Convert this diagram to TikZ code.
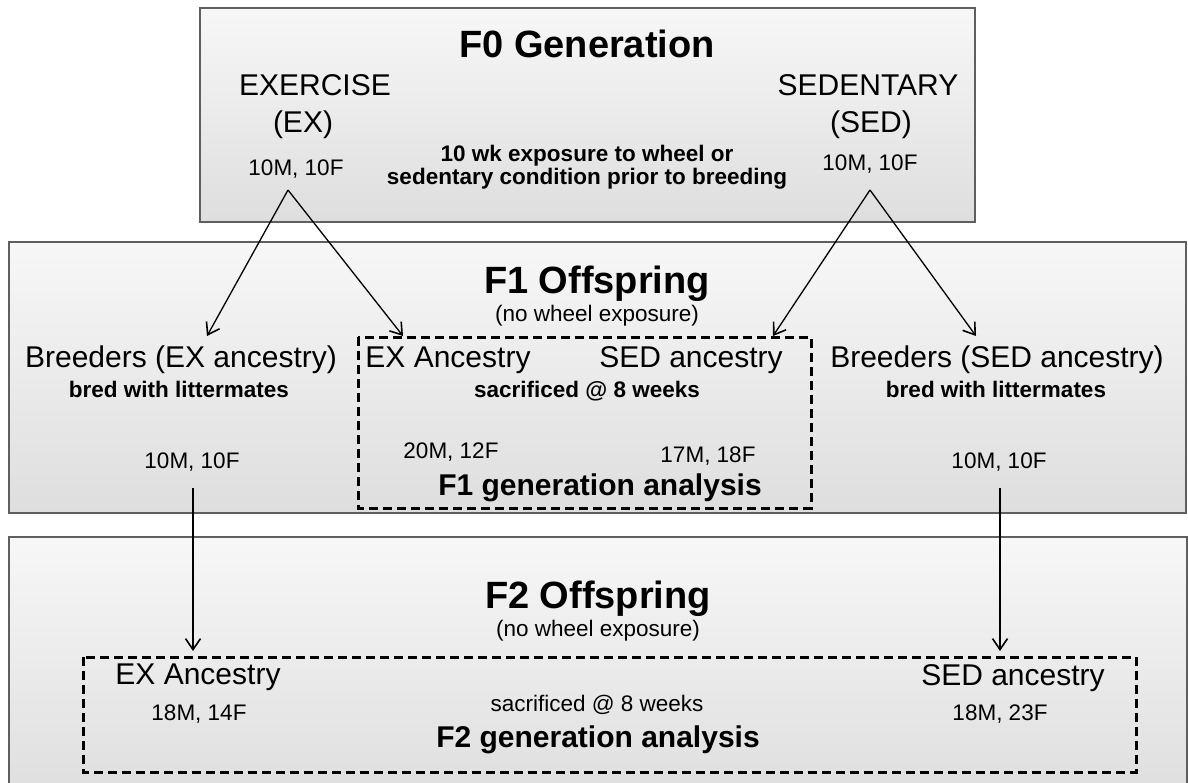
\documentclass[tikz,border=0pt]{standalone}
\usepackage{fontspec}
\setmainfont{Liberation Sans}
\usetikzlibrary{arrows.meta}
\definecolor{boxtop}{RGB}{247,247,247}
\definecolor{boxbot}{RGB}{222,222,222}
\definecolor{boxline}{RGB}{95,95,95}

\begin{document}
\begin{tikzpicture}[x=1pt,y=-1pt,
  panel/.style={draw=boxline,line width=1.6pt,top color=boxtop,bottom color=boxbot},
  group/.style={draw=black,line width=3pt,dash pattern=on 9pt off 5pt},
  arr/.style={-{Straight Barb[length=11pt,width=15pt,line width=1.6pt]},line width=1.3pt},
  big/.style={anchor=base,font=\fontsize{38}{40}\selectfont\bfseries},
  mid/.style={anchor=base,font=\fontsize{30}{32}\selectfont},
  midb/.style={mid,font=\fontsize{30}{32}\selectfont\bfseries},
  small/.style={anchor=base,font=\fontsize{22.5}{24}\selectfont},
  smallb/.style={small,font=\fontsize{22.5}{24}\selectfont\bfseries}]
\clip (0,0) rectangle (1188,782);
\fill[white] (0,0) rectangle (1188,782);

% the three panels
\draw[panel] (200,8) rectangle (975,222);
\draw[panel] (9,242) rectangle (1186,513);
\draw[panel] (9,537) rectangle (1187,800);
\draw[group] (358,337) rectangle (811,508);
\draw[group] (83,657) rectangle (1136,772);

% F0
\node[big] (f0) at (587,57) {F0 Generation};
\node[mid] (ex) at (315,95) {EXERCISE};
\node[mid] (exab) at (303,132) {(EX)};
\node[small] (exn) at (296,175) {10M, 10F};
\node[mid] (sed) at (868,95) {SEDENTARY};
\node[mid] (sedab) at (871,132) {(SED)};
\node[small] (sedn) at (870,170) {10M, 10F};
\node[smallb] (wk) at (587,161) {10 wk exposure to wheel or};
\node[smallb] (cond) at (587,184) {sedentary condition prior to breeding};

% F1
\node[big] (f1) at (597,293) {F1 Offspring};
\node[small] (f1no) at (597,321) {(no wheel exposure)};
\node[mid] (brex) at (181,367) {Breeders (EX ancestry)};
\node[smallb] (brexl) at (179,397) {bred with littermates};
\node[small] (brexn) at (192,468) {10M, 10F};
\node[mid] (f1ex) at (448,367) {EX Ancestry};
\node[mid] (f1sed) at (691,367) {SED ancestry};
\node[smallb] (f1sac) at (587,397) {sacrificed @ 8 weeks};
\node[small] (f1exn) at (451,458) {20M, 12F};
\node[small] (f1sedn) at (708,462) {17M, 18F};
\node[midb] (f1an) at (600,495) {F1 generation analysis};
\node[mid] (brsed) at (997,367) {Breeders (SED ancestry)};
\node[smallb] (brsedl) at (996,397) {bred with littermates};
\node[small] (brsedn) at (999,468) {10M, 10F};

% F2
\node[big] (f2) at (598,608) {F2 Offspring};
\node[small] (f2no) at (598,636) {(no wheel exposure)};
\node[mid] (f2ex) at (198,684) {EX Ancestry};
\node[small] (f2exn) at (199,720) {18M, 14F};
\node[small] (f2sac) at (597,711) {sacrificed @ 8 weeks};
\node[midb] (f2an) at (598,747) {F2 generation analysis};
\node[mid] (f2sed) at (1013,685) {SED ancestry};
\node[small] (f2sedn) at (1000,720) {18M, 23F};

% arrow ends
\coordinate (exapex) at (288,190);
\coordinate (sedapex) at (870,190);
\coordinate (brexin) at (207,336);
\coordinate (f1exin) at (403,336);
\coordinate (f1sedin) at (773,336);
\coordinate (brsedin) at (976,336);
\coordinate (brexout) at (193,488);
\coordinate (brsedout) at (1000,488);
\coordinate (f2exin) at (193,651);
\coordinate (f2sedin) at (1000,651);

\draw[arr] (exapex) -- (brexin);
\draw[arr] (exapex) -- (f1exin);
\draw[arr] (sedapex) -- (f1sedin);
\draw[arr] (sedapex) -- (brsedin);
\draw[arr] (brexout) -- (f2exin);
\draw[arr] (brsedout) -- (f2sedin);
\end{tikzpicture}
\end{document}
